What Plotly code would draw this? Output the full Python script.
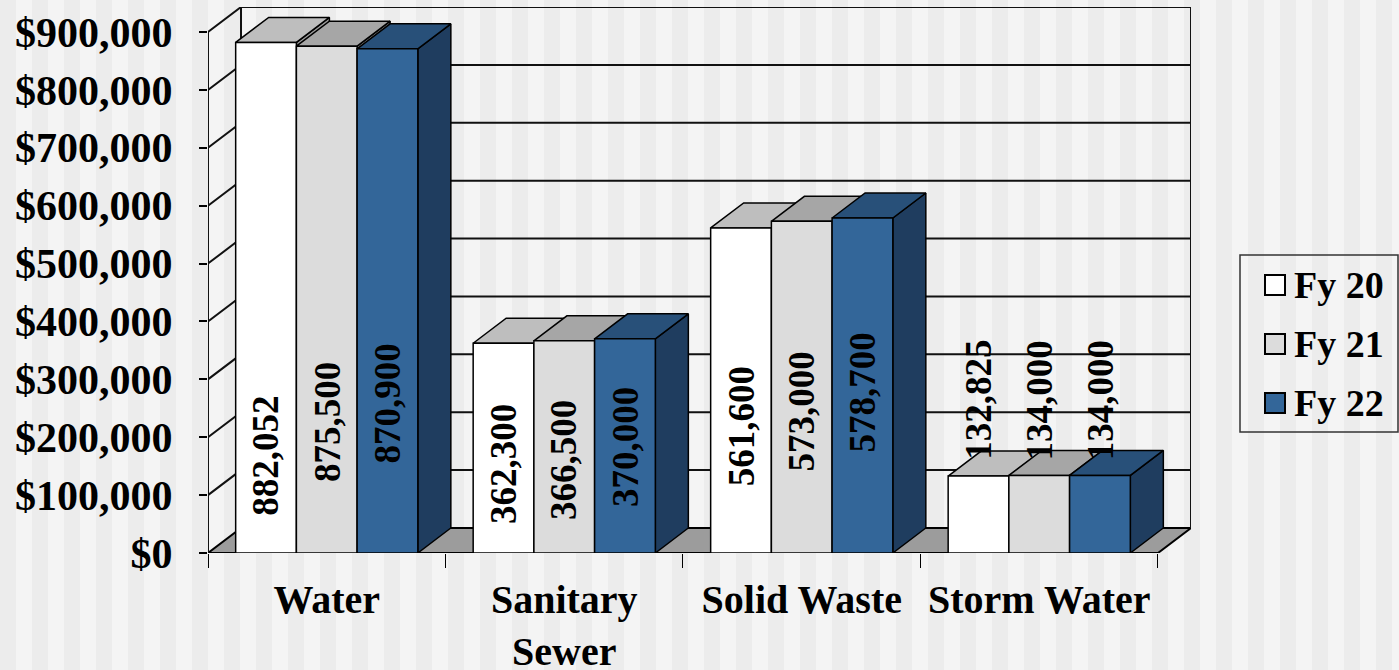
import plotly.graph_objects as go

# ---------------- data ----------------
categories = ["Water", "Sanitary<br>Sewer", "Solid Waste", "Storm Water"]
series_names = ["Fy 20", "Fy 21", "Fy 22"]
fy20 = [882052, 362300, 561600, 132825]
fy21 = [875500, 366500, 573000, 134000]
fy22 = [870900, 370000, 578700, 134000]
y_tick_values = [0, 100000, 200000, 300000, 400000, 500000, 600000, 700000, 800000, 900000]

# value-axis position of the centre of each rotated data label (as placed in the original)
label_mid_fy20 = [168000, 153000, 219000, 264000]
label_mid_fy21 = [226000, 161000, 244000, 264000]
label_mid_fy22 = [259000, 183000, 278000, 264000]

series_values = [fy20, fy21, fy22]
label_mids = [label_mid_fy20, label_mid_fy21, label_mid_fy22]

# ---------------- styling / geometry ----------------
W, H = 1399, 670
ML, MR, MT, MB = 208, 208, 7, 117
PW, PH = W - ML - MR, H - MT - MB
FONT = "Liberation Serif"

front_colors = ["#ffffff", "#dcdcdc", "#336699"]
top_colors = ["#bebebe", "#a6a6a6", "#285079"]
side_colors = ["#9a9a9a", "#8a8a8a", "#1f3d5f"]

YMAX = y_tick_values[-1]
DX = 0.139          # oblique depth, in category units
DY = 43190          # oblique depth, in value units
GROUP = 0.767       # width of a group of bars
BW = GROUP / 3.0
n_cat = len(categories)
x_centers = list(range(n_cat))


def px_x(p):
    return (p - ML) / PW


def px_y(p):
    return (H - MB - p) / PH


fig = go.Figure()
shapes = []

# striped background
for k in range(0, W // 16 + 2):
    if k % 2 == 0:
        shapes.append(dict(type="rect", xref="paper", yref="paper",
                           x0=px_x(k * 16), x1=px_x(k * 16 + 16),
                           y0=px_y(H + 5), y1=px_y(-5),
                           fillcolor="#ececec", line=dict(width=0), layer="below"))

xl, xr = -0.5, n_cat - 0.5
# floor
shapes.append(dict(type="path", xref="x", yref="y",
                   path=f"M{xl},0 L{xl+DX},{DY} L{xr+DX},{DY} L{xr},0 Z",
                   fillcolor="#9c9c9c", line=dict(color="#000000", width=2), layer="below"))
# back-wall and side-wall grid lines
for v in y_tick_values[1:]:
    shapes.append(dict(type="path", xref="x", yref="y",
                       path=f"M{xl},{v} L{xl+DX},{v+DY} L{xr+DX},{v+DY}",
                       line=dict(color="#111111", width=2), layer="below"))
# wall verticals
shapes.append(dict(type="line", xref="x", yref="y", x0=xl, x1=xl, y0=0, y1=YMAX,
                   line=dict(color="#111111", width=2), layer="below"))
shapes.append(dict(type="line", xref="x", yref="y", x0=xl + DX, x1=xl + DX, y0=DY, y1=YMAX + DY,
                   line=dict(color="#111111", width=2), layer="below"))
shapes.append(dict(type="line", xref="x", yref="y", x0=xr + DX, x1=xr + DX, y0=DY, y1=YMAX + DY,
                   line=dict(color="#111111", width=2), layer="below"))

annotations = []
for j, (name, vals) in enumerate(zip(series_names, series_values)):
    off = -GROUP / 2 + j * BW
    tx, ty, sx, sy = [], [], [], []
    for i, v in enumerate(vals):
        x0 = i + off
        x1 = x0 + BW
        tx += [x0, x0 + DX, x1 + DX, x1, x0, None]
        ty += [v, v + DY, v + DY, v, v, None]
        sx += [x1, x1, x1 + DX, x1 + DX, x1, None]
        sy += [0, v, v + DY, DY, 0, None]
    # side faces
    fig.add_trace(go.Scatter(x=sx, y=sy, mode="lines", fill="toself",
                             fillcolor=side_colors[j], line=dict(color="#000000", width=1.5),
                             hoverinfo="skip", showlegend=False, zorder=2 * j + 1))
    # top faces
    fig.add_trace(go.Scatter(x=tx, y=ty, mode="lines", fill="toself",
                             fillcolor=top_colors[j], line=dict(color="#000000", width=1.5),
                             hoverinfo="skip", showlegend=False, zorder=2 * j + 1))
    # front faces
    fig.add_trace(go.Bar(x=x_centers, y=vals, name=name, width=BW, offset=off,
                         marker=dict(color=front_colors[j], line=dict(color="#000000", width=1.5)),
                         showlegend=False, zorder=2 * j + 2))
    for i, v in enumerate(vals):
        annotations.append(dict(x=i + off + BW / 2, y=label_mids[j][i], xref="x", yref="y",
                                text=f"{v:,.0f}", textangle=-90, showarrow=False,
                                xanchor="center", yanchor="middle",
                                font=dict(family=FONT, size=37, color="#000000", weight="bold")))

# custom legend
lg_left, lg_right, lg_top, lg_bottom = 1240, 1398, 255, 432
shapes.append(dict(type="rect", xref="paper", yref="paper",
                   x0=px_x(lg_left), x1=px_x(lg_right), y0=px_y(lg_bottom), y1=px_y(lg_top),
                   line=dict(color="#333333", width=1.5), fillcolor="rgba(0,0,0,0)"))
row_centers = [285, 344, 403]
for j, name in enumerate(series_names):
    cy = row_centers[j]
    shapes.append(dict(type="rect", xref="paper", yref="paper",
                       x0=px_x(1265), x1=px_x(1285), y0=px_y(cy + 10), y1=px_y(cy - 10),
                       fillcolor=front_colors[j], line=dict(color="#000000", width=2)))
    annotations.append(dict(x=px_x(1292), y=px_y(cy), xref="paper", yref="paper",
                            text=name, showarrow=False, xanchor="left", yanchor="middle",
                            font=dict(family=FONT, size=38, color="#000000", weight="bold")))

fig.update_layout(
    width=W, height=H, autosize=False,
    margin=dict(l=ML, r=MR, t=MT, b=MB, pad=0),
    paper_bgcolor="#f4f4f4", plot_bgcolor="rgba(0,0,0,0)",
    barmode="overlay",
    showlegend=False,
    shapes=shapes,
    annotations=annotations,
    font=dict(family=FONT, color="#000000"),
    xaxis=dict(range=[xl, xr + DX], tickmode="array", tickvals=x_centers, ticktext=categories,
               ticks="", showgrid=False, zeroline=False, showline=False, automargin=False,
               tickfont=dict(family=FONT, size=40, color="#000000", weight="bold"),
               ticklabelstandoff=19,
               minor=dict(tickmode="array", tickvals=[c - 0.5 for c in range(n_cat + 1)],
                          ticks="outside", ticklen=14, tickcolor="#000000", tickwidth=1,
                          showgrid=False)),
    yaxis=dict(range=[0, YMAX + DY], tickmode="array", tickvals=y_tick_values,
               ticktext=[f"${v:,.0f}" for v in y_tick_values],
               ticks="outside", ticklen=8, tickcolor="#000000", tickwidth=1.5,
               showgrid=False, zeroline=False, showline=False, automargin=False,
               tickfont=dict(family=FONT, size=42, color="#000000", weight="bold"),
               ticklabelstandoff=18),
)

fig.write_html("out.html", config={"displayModeBar": False})
